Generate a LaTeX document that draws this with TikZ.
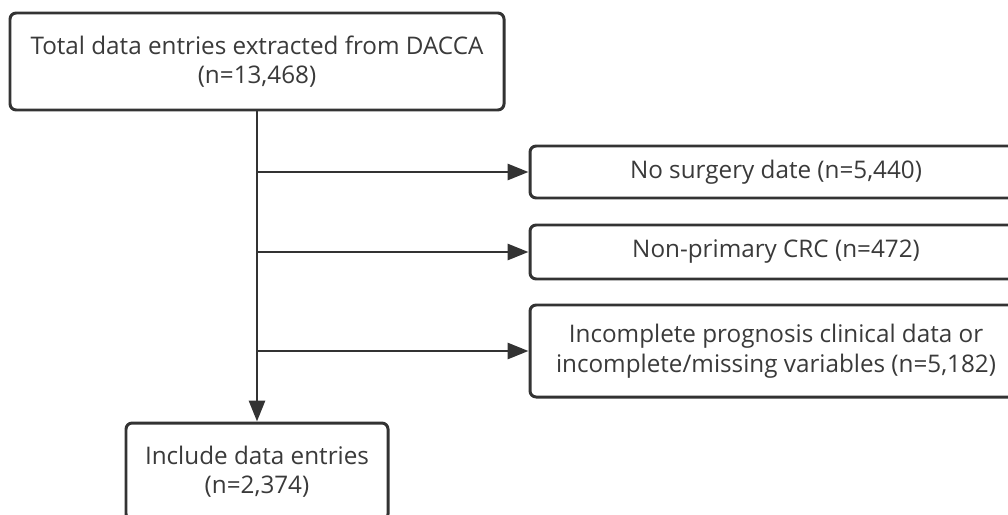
\documentclass[tikz,border=0pt]{standalone}
\usepackage{fontspec}
\setmainfont{Open Sans}
\usetikzlibrary{arrows.meta}
\definecolor{flowink}{HTML}{333333}
\definecolor{flowtext}{HTML}{3A3A3A}

\begin{document}
\begin{tikzpicture}[
  font=\fontsize{13.8}{16.8}\selectfont,
  box/.style={draw=flowink, fill=white, text=flowtext, line width=1.7pt,
    rounded corners=3.5pt, align=center, inner sep=0pt},
  flow/.style={draw=flowink, line width=1.7pt, -{Triangle[length=4.2mm,width=3.2mm]}},
]
\useasboundingbox (0,0) rectangle (20.16,-10.28);
\clip (0,0) rectangle (20.16,-10.28);

% ===== main column =====
\node[box, minimum width=9.88cm, minimum height=1.94cm] (total) at (5.14,-1.23)
  {Total data entries extracted from DACCA\\(n=13,468)};
\node[box, minimum width=5.24cm, minimum height=1.94cm] (incl) at (5.14,-9.43)
  {Include data entries\\(n=2,374)};

% ===== exclusions =====
\node[box, minimum width=9.84cm, minimum height=1.04cm] (nosurg) at (15.52,-3.44)
  {No surgery date (n=5,440)};
\node[box, minimum width=9.84cm, minimum height=1.08cm] (nonprim) at (15.52,-5.04)
  {Non-primary CRC (n=472)};
\node[box, minimum width=9.84cm, minimum height=1.84cm] (incompl) at (15.52,-7.02)
  {Incomplete prognosis clinical data or\\incomplete/missing variables (n=5,182)};

% ===== connectors =====
\draw[flow] (total.south) -- (incl.north);
\draw[flow] (total.south |- nosurg.west) -- (nosurg.west);
\draw[flow] (total.south |- nonprim.west) -- (nonprim.west);
\draw[flow] (total.south |- incompl.west) -- (incompl.west);

\end{tikzpicture}
\end{document}
